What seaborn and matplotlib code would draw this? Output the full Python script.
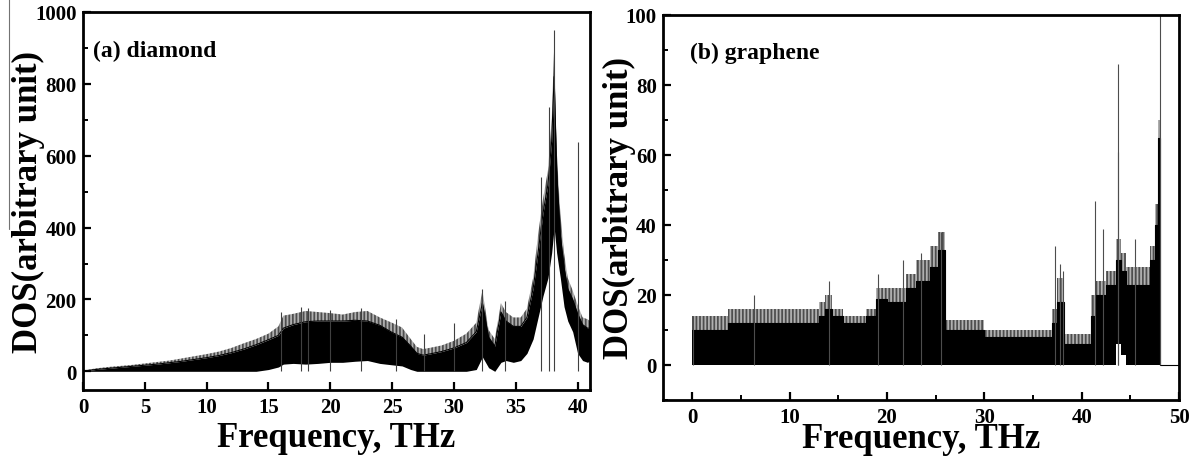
import matplotlib
matplotlib.use("Agg")
import matplotlib.pyplot as plt
from matplotlib.ticker import MultipleLocator
from matplotlib.lines import Line2D
import seaborn as sns

# ---------------- (a) diamond : envelope of the DOS band ----------------
d_freq = [0, 1, 2, 3, 4, 5, 6, 7, 8, 9, 10, 11, 12, 13, 14, 15, 15.8, 16.2, 17, 18,
          19, 20, 21, 22, 23, 24, 25, 25.8, 26.5, 27.0, 27.5, 28, 29, 30, 31, 31.8,
          32.3, 32.8, 33.3, 33.8, 34.2, 34.8, 35.4, 35.9, 36.4, 36.8, 37.2, 37.6,
          37.9, 38.1, 38.3, 38.6, 38.9, 39.2, 39.6, 40.0, 40.4, 40.8, 41.0]
d_core = [0, 5, 8, 11, 14, 17, 20, 24, 28, 33, 38, 44, 52, 62, 74, 88, 100, 120, 130, 138,
          140, 140, 140, 142, 140, 128, 108, 95, 70, 50, 45, 48, 55, 65, 80, 110,
          190, 95, 70, 165, 140, 125, 125, 150, 230, 330, 440, 520,
          640, 820, 560, 380, 290, 230, 200, 160, 130, 120, 120]
d_fringe = [2, 8, 12, 15, 18, 22, 26, 30, 36, 42, 48, 55, 65, 78, 90, 105, 125, 155, 160, 168,
            165, 162, 158, 165, 168, 150, 135, 122, 90, 68, 62, 65, 72, 85, 105, 135,
            225, 115, 90, 190, 165, 150, 150, 175, 260, 380, 480, 560,
            700, 900, 620, 440, 330, 260, 225, 185, 150, 145, 140]
d_lower = [0, 0, 0, 0, 0, 0, 0, 0, 0, 0, 0, 0, 0, 0, 0, 5, 12, 20, 22, 20,
           22, 25, 25, 28, 30, 22, 18, 15, 5, 0, 0, 0, 0, 0, 0, 5,
           40, 10, 0, 25, 30, 25, 30, 50, 90, 150, 210, 260,
           330, 400, 330, 260, 180, 140, 110, 50, 30, 25, 30]
d_spike_x = [16.0, 17.6, 18.2, 20.0, 22.5, 25.3, 27.6, 30.0, 32.3, 34.1, 37.0, 37.7, 38.1, 40.0]
d_spike_y = [165, 180, 175, 170, 175, 145, 105, 135, 228, 195, 540, 735, 950, 638]

# ---------------- (b) graphene : step envelope of the DOS ----------------
g_edges = [0.0, 3.7, 13.0, 13.6, 14.4, 15.5, 17.9, 18.9, 20.0, 22.0, 23.0, 24.4, 25.2, 26.0,
           30.0, 37.0, 37.5, 38.2, 41.0, 41.4, 42.5, 43.5, 44.0, 44.6, 47.0, 47.5, 47.8, 48.0, 50.0]
g_core = [10, 12, 14, 16, 14, 12, 14, 19, 18, 22, 24, 28, 33, 10,
          8, 12, 18, 6, 14, 20, 23, 30, 27, 23, 30, 40, 65, 0, 0]
g_fringe = [14, 16, 18, 20, 16, 14, 16, 22, 22, 26, 30, 34, 38, 13,
            10, 16, 25, 9, 20, 24, 27, 36, 32, 28, 34, 46, 70, 0, 0]
g_lower = [0, 0, 0, 0, 0, 0, 0, 0, 0, 0, 0, 0, 0, 0,
           0, 0, 0, 0, 0, 0, 0, 6, 3, 0, 0, 0, 0, 0, 0]
g_spike_x = [0.05, 6.3, 14.0, 19.1, 21.7, 23.5, 25.6, 37.3, 37.8, 38.1, 41.4, 42.2, 43.7, 43.75, 45.5, 48.0]
g_spike_y = [14, 20, 24, 26, 30, 32, 38, 34, 29, 27, 47, 39, 86, 61, 36, 100]

sns.set_theme(style="ticks")
plt.rcParams['font.family'] = ['Liberation Serif', 'DejaVu Serif']
plt.rcParams['font.weight'] = 'bold'
plt.rcParams['hatch.linewidth'] = 0.5
for k in ('text.color', 'axes.labelcolor', 'xtick.color', 'ytick.color', 'axes.edgecolor'):
    plt.rcParams[k] = 'black'

fig = plt.figure(figsize=(11.97, 4.60), dpi=100)
ax1 = fig.add_axes([83 / 1197, 1 - 391 / 460, (590 - 83) / 1197, (391 - 13) / 460])
ax2 = fig.add_axes([663 / 1197, 1 - 401 / 460, (1179 - 663) / 1197, (401 - 16) / 460])

HATCH = '|' * 12

# diamond
ax1.fill_between(d_freq, d_lower, d_core, color='black', lw=0)
ax1.fill_between(d_freq, d_core, d_fringe, facecolor='none', edgecolor='black',
                 hatch=HATCH, lw=0)
sns.lineplot(x=d_freq, y=d_core, ax=ax1, color='black', lw=0.8, estimator=None, sort=False)
ax1.vlines(d_spike_x, 0, d_spike_y, color='0.25', lw=0.8)

# graphene
ax2.fill_between(g_edges, g_lower, g_core, step='post', color='black', lw=0)
ax2.fill_between(g_edges, g_core, g_fringe, step='post', facecolor='none', edgecolor='black',
                 hatch=HATCH, lw=0)
sns.lineplot(x=g_edges, y=g_core, ax=ax2, color='black', lw=0.8, estimator=None, sort=False,
             drawstyle='steps-post')
ax2.vlines(g_spike_x, 0, g_spike_y, color='0.3', lw=0.8)

ax1.set_xlim(0, 41)
ax1.set_ylim(-52, 1000)
ax1.xaxis.set_major_locator(MultipleLocator(5))
ax1.yaxis.set_major_locator(MultipleLocator(200))
ax1.yaxis.set_minor_locator(MultipleLocator(100))

ax2.set_xlim(-3, 50)
ax2.set_ylim(-10, 100)
ax2.xaxis.set_major_locator(MultipleLocator(10))
ax2.xaxis.set_minor_locator(MultipleLocator(5))
ax2.yaxis.set_major_locator(MultipleLocator(20))
ax2.yaxis.set_minor_locator(MultipleLocator(10))

for ax in (ax1, ax2):
    for s in ax.spines.values():
        s.set_linewidth(2.0)
        s.set_color('black')
        s.set_visible(True)
    ax.tick_params(which='major', direction='in', length=6, width=1.6, labelsize=15,
                   colors='black', top=False, right=False)
    ax.tick_params(which='minor', direction='in', length=3.5, width=1.4,
                   top=False, right=False)
    ax.tick_params(axis='x', which='major', pad=5.0)
    ax.tick_params(axis='y', which='major', pad=4.5)
    for lab in ax.get_xticklabels() + ax.get_yticklabels():
        lab.set_fontweight('bold')
    ax.set_xlabel('Frequency, THz', fontsize=25, fontweight='bold')
    ax.set_ylabel('DOS(arbitrary unit)', fontsize=25, fontweight='bold')
    ax.grid(False)

ax1.xaxis.set_label_coords(0.5, -0.082)
ax2.xaxis.set_label_coords(0.5, -0.056)
ax1.yaxis.set_label_coords(-0.075, 0.5)
ax2.yaxis.set_label_coords(-0.052, 0.5)

ax1.text(0.02, 0.897, '(a) diamond', transform=ax1.transAxes, fontsize=17,
         fontweight='bold', va='center', ha='left')
ax2.text(0.052, 0.904, '(b) graphene', transform=ax2.transAxes, fontsize=17,
         fontweight='bold', va='center', ha='left')

fig.add_artist(Line2D([9 / 1197, 9 / 1197], [1.0, 1 - 230 / 460], transform=fig.transFigure,
                      color='0.45', lw=0.8))

fig.savefig('out.png', dpi=100)
